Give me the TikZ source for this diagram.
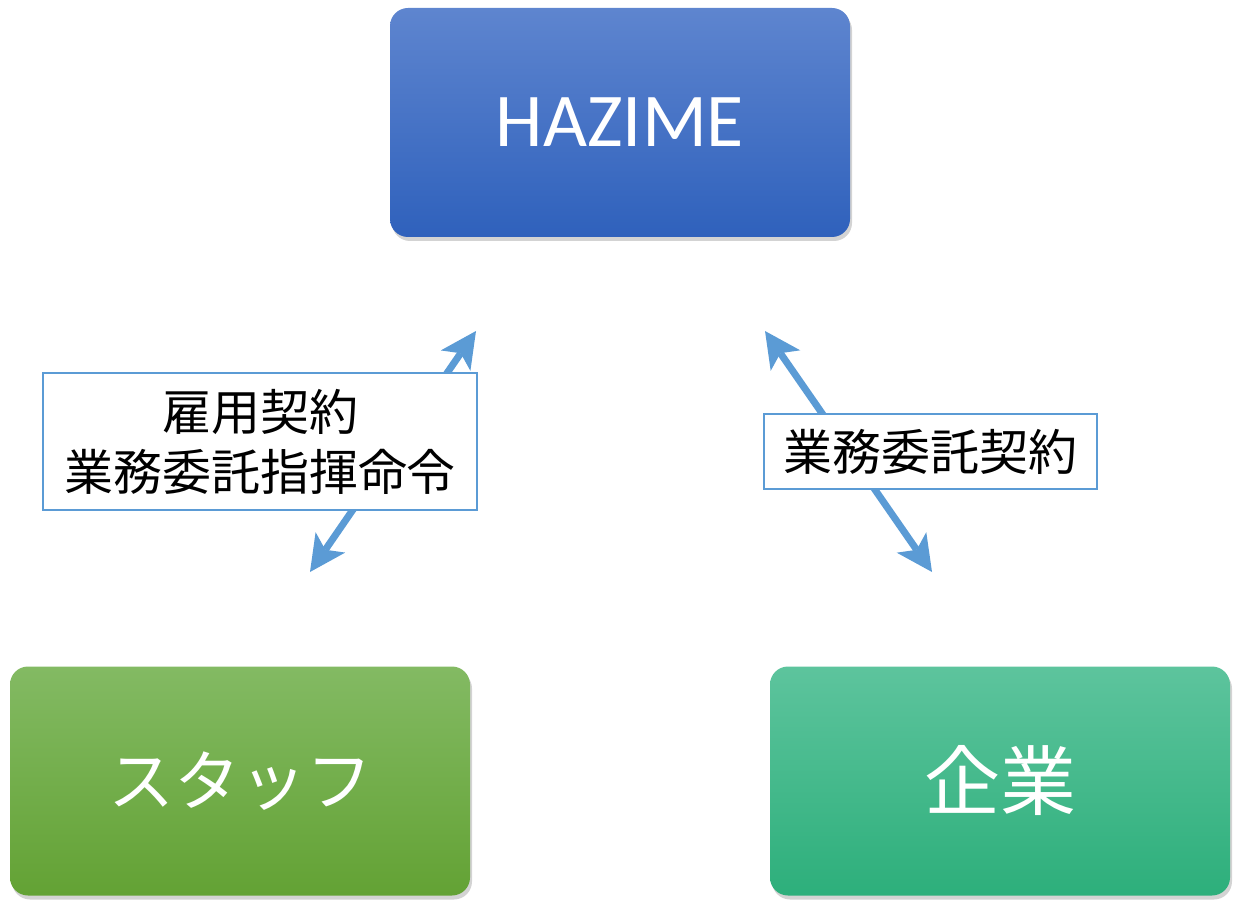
\documentclass[tikz,border=0pt]{standalone}
\usepackage{fontspec}
\setmainfont{Carlito}
\newfontfamily\jp{Noto Sans CJK JP}
\usetikzlibrary{arrows.meta,shadows}
\definecolor{arrowblue}{HTML}{5B9BD5}
\definecolor{hztop}{HTML}{5E85CF}
\definecolor{hzbot}{HTML}{2F61BC}
\definecolor{grtop}{HTML}{83BA63}
\definecolor{grbot}{HTML}{63A234}
\definecolor{tltop}{HTML}{5DC49D}
\definecolor{tlbot}{HTML}{2DAF7B}
\tikzset{
  bigbox/.style={rounded corners=18pt, minimum width=460pt, minimum height=229pt,
    text=white, inner sep=0pt,
    drop shadow={opacity=0.35, shadow xshift=2pt, shadow yshift=-4pt}},
  labelbox/.style={draw=arrowblue, line width=1.3pt, fill=white, inner sep=0pt,
    font=\jp\fontsize{49}{60}\selectfont, align=center, text=black},
  tipstyle/.style={},
  dbl/.style={draw=arrowblue, line width=7pt,
    {Stealth[length=36pt,width=36pt,inset=9pt,line width=0pt,fill=arrowblue]}-{Stealth[length=36pt,width=36pt,inset=9pt,line width=0pt,fill=arrowblue]}}
}
\begin{document}
\begin{tikzpicture}[x=1pt,y=-1pt]
\useasboundingbox (0,0) rectangle (1240,909);
\node[bigbox, top color=hztop, bottom color=hzbot, font=\fontsize{76}{80}\selectfont] (hz) at (620,122.5) {HAZIME};
\node[bigbox, top color=grtop, bottom color=grbot, font=\jp\fontsize{66}{72}\selectfont] (st) at (240,781) {スタッフ};
\node[bigbox, top color=tltop, bottom color=tlbot, font=\jp\fontsize{76}{80}\selectfont] (co) at (1000,781) {企業};
\coordinate (l1) at (310,572);
\coordinate (l2) at (476,331);
\coordinate (r1) at (765,331);
\coordinate (r2) at (932,572);
\draw[dbl] (l1) -- (l2);
\draw[dbl] (r1) -- (r2);
\node[labelbox, minimum width=434pt, minimum height=137pt] (ll) at (260,441.5) {雇用契約\\業務委託指揮命令};
\node[labelbox, minimum width=333pt, minimum height=75pt] (rl) at (930.5,451.5) {業務委託契約};
\end{tikzpicture}
\end{document}
